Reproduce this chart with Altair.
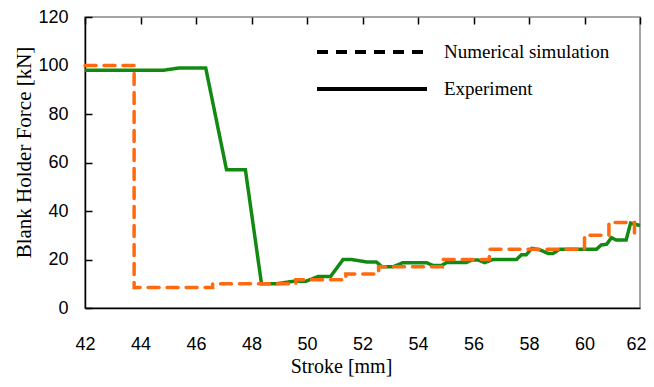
import altair as alt
import pandas as pd

# Experiment (solid green)
exp_x = [42, 44.8, 45.4, 46.35, 47.1, 47.78, 48.36, 48.9, 49.5, 49.96, 50.4, 50.85,
         51.3, 51.6, 52.14, 52.5, 52.7, 53.1, 53.46, 54.3, 54.55, 54.85, 55.03, 55.75,
         55.93, 56.17, 56.4, 56.7, 57.55, 57.73, 57.9, 58.1, 58.39, 58.69, 58.87, 59.1,
         60.43, 60.6, 60.8, 60.97, 61.15, 61.5, 61.66, 61.8, 62]
exp_y = [98, 98, 99, 99, 57, 57, 10, 10, 11, 11, 13, 13,
         20, 20, 19, 19, 17, 17, 18.7, 18.7, 17.5, 17.5, 18.8, 18.8,
         19.8, 19.8, 18.7, 20, 20, 22, 22, 24.6, 24, 22.5, 22.5, 24.2,
         24.2, 26, 26.3, 29, 28, 28, 35, 34.6, 34]

# Numerical simulation (dashed orange)
sim_x = [42, 43.77, 43.77, 46.6, 46.6, 49.6, 49.6, 51.4, 51.4, 52.58, 52.58,
         54.88, 54.88, 56.57, 56.57, 60.0, 60.0, 60.88, 60.88, 61.8, 61.8]
sim_y = [100, 100, 8.5, 8.5, 10, 10, 11.6, 11.6, 14, 14, 17,
         17, 20, 20, 24.2, 24.2, 30, 30, 35.3, 35.3, 30]

series_names = ["Numerical simulation", "Experiment"]
x_ticks = [42, 44, 46, 48, 50, 52, 54, 56, 58, 60, 62]
y_ticks = [0, 20, 40, 60, 80, 100, 120]

exp_df = pd.DataFrame({"x": exp_x, "y": exp_y, "series": series_names[1], "o": range(len(exp_x))})
sim_df = pd.DataFrame({"x": sim_x, "y": sim_y, "series": series_names[0], "o": range(len(sim_x))})

W, H = 555, 291
GREEN = "#128A12"
ORANGE = "#FF6A10"

xscale = alt.Scale(domain=[42, 62], nice=False, zero=False)
yscale = alt.Scale(domain=[0, 120], nice=False)

# short dashed grid lines starting at the axis act as inward-pointing ticks
xaxis = alt.Axis(values=x_ticks, format="d", ticks=False, tickSize=0,
                 grid=True, gridDash=[7, 2000], gridColor="black", gridWidth=1.5, gridOpacity=1,
                 domainColor="black", domainWidth=1.5,
                 labelFont="Liberation Sans", labelFontSize=18, labelColor="black",
                 labelPadding=27, labelFlush=False,
                 labelAlign=alt.ExprRef(expr="datum.value == 62 ? 'right' : 'center'"),
                 labelOffset=alt.ExprRef(expr="datum.value == 62 ? 6 : 0"),
                 title="Stroke [mm]", titleFont="Liberation Serif", titleFontSize=20,
                 titleFontWeight="normal", titleColor="black",
                 titleX=256, titleY=58, titleBaseline="middle", titleAlign="center")
yaxis = alt.Axis(values=y_ticks, format="d", ticks=False, tickSize=0,
                 grid=True, gridDash=[7, 2000], gridColor="black", gridWidth=1.5, gridOpacity=1,
                 domainColor="black", domainWidth=1.5,
                 labelFont="Liberation Sans", labelFontSize=18, labelColor="black",
                 labelPadding=17, labelFlush=False,
                 title="Blank Holder Force [kN]", titleFont="Liberation Serif", titleFontSize=21,
                 titleFontWeight="normal", titleColor="black",
                 titleX=-61, titleY=135, titleBaseline="middle", titleAlign="center", titleAngle=-90)

dash_enc = alt.StrokeDash(
    "series:N",
    scale=alt.Scale(domain=series_names, range=[[11, 8], [1, 0]]),
    legend=alt.Legend(orient="none", legendX=230, legendY=20, title=None,
                      symbolType="stroke", symbolSize=12100, symbolStrokeWidth=4,
                      symbolStrokeColor="black", clipHeight=30, rowPadding=7,
                      labelOffset=15, labelFont="Liberation Serif", labelFontSize=19,
                      labelColor="black", padding=0, symbolOffset=0, labelLimit=300),
)

green = alt.Chart(exp_df).mark_line(strokeWidth=3.5, color=GREEN, strokeJoin="miter").encode(
    x=alt.X("x:Q", scale=xscale, axis=xaxis),
    y=alt.Y("y:Q", scale=yscale, axis=yaxis),
    order="o:Q",
    strokeDash=dash_enc,
)
orange = alt.Chart(sim_df).mark_line(strokeWidth=3.5, color=ORANGE, strokeCap="round").encode(
    x=alt.X("x:Q", scale=xscale),
    y=alt.Y("y:Q", scale=yscale),
    order="o:Q",
    strokeDash=dash_enc,
)

chart = alt.layer(green, orange).properties(
    width=W, height=H,
    autosize=alt.AutoSizeParams(type="none"),
    padding={"left": 77, "top": 9, "right": 6, "bottom": 70},
    background="white",
).configure_view(stroke="#888888", strokeWidth=1.5)

chart.save("out.html", embed_options={"renderer": "svg", "actions": False})
